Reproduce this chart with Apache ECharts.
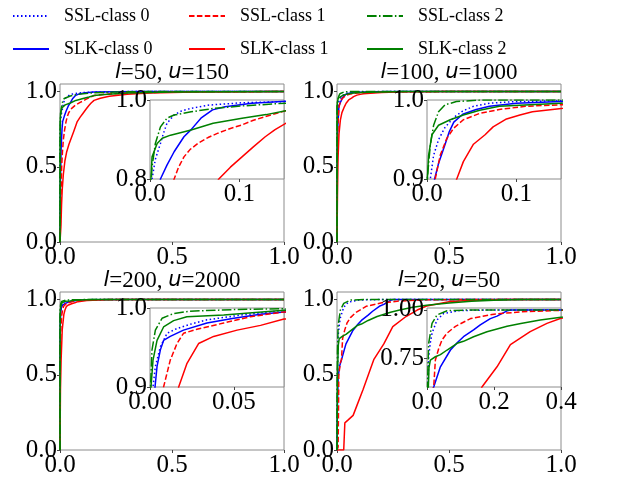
<!DOCTYPE html>
<html>
<head>
<meta charset="utf-8">
<script src="https://cdn.jsdelivr.net/npm/echarts@6/dist/echarts.min.js"></script>
<style>
  html, body { margin: 0; padding: 0; background: #fff; }
  #chart { width: 641px; height: 479px; }
</style>
</head>
<body>
<div id="chart"></div>
<script>
// ROC curves, [fpr, tpr]
// l=50, u=150
const p1_ssl0 = [[0,0],[0.0003,0.5],[0.001,0.72],[0.0023,0.8],[0.006,0.85],[0.0117,0.89],[0.015,0.915],[0.019,0.941],[0.027,0.962],[0.035,0.972],[0.046,0.979],[0.065,0.987],[0.103,0.993],[0.152,0.996],[0.25,0.999],[0.4,1],[1,1]];
const p1_ssl1 = [[0,0],[0.004,0.28],[0.0074,0.5],[0.011,0.6],[0.015,0.68],[0.02,0.74],[0.027,0.8],[0.032,0.83],[0.038,0.856],[0.045,0.875],[0.0536,0.89],[0.065,0.905],[0.076,0.916],[0.09,0.928],[0.103,0.937],[0.115,0.948],[0.129,0.958],[0.152,0.973],[0.2,0.982],[0.3,0.99],[0.5,0.997],[1,1]];
const p1_ssl2 = [[0,0],[0.0003,0.6],[0.001,0.78],[0.0023,0.831],[0.006,0.89],[0.0117,0.932],[0.019,0.954],[0.027,0.962],[0.046,0.97],[0.072,0.979],[0.103,0.985],[0.152,0.992],[0.25,0.997],[0.4,1],[1,1]];
const p1_slk0 = [[0,0],[0.002,0.4],[0.005,0.62],[0.009,0.75],[0.0117,0.8],[0.019,0.835],[0.027,0.869],[0.038,0.907],[0.046,0.925],[0.057,0.954],[0.07,0.975],[0.084,0.983],[0.114,0.992],[0.152,0.997],[0.25,0.999],[0.35,1],[1,1]];
const p1_slk1 = [[0,0],[0.004,0.1],[0.007,0.25],[0.01,0.35],[0.015,0.45],[0.022,0.54],[0.03,0.6],[0.04,0.65],[0.06,0.73],[0.077,0.8],[0.09,0.83],[0.103,0.856],[0.116,0.882],[0.129,0.907],[0.14,0.925],[0.152,0.941],[0.18,0.955],[0.22,0.968],[0.3,0.982],[0.4,0.99],[0.6,0.997],[1,1]];
const p1_slk2 = [[0,0],[0.0003,0.6],[0.001,0.8],[0.0023,0.856],[0.008,0.89],[0.0137,0.903],[0.023,0.911],[0.046,0.924],[0.0707,0.941],[0.103,0.954],[0.13,0.963],[0.152,0.973],[0.2,0.98],[0.3,0.99],[0.5,0.997],[1,1]];

// l=100, u=1000
const p2_ssl0 = [[0,0],[0.0005,0.6],[0.0015,0.8],[0.0037,0.9],[0.0074,0.93],[0.013,0.95],[0.02,0.965],[0.03,0.978],[0.04,0.986],[0.052,0.992],[0.07,0.996],[0.1,0.998],[0.15,0.999],[0.3,1],[1,1]];
const p2_ssl1 = [[0,0],[0.001,0.5],[0.004,0.78],[0.0092,0.9],[0.0148,0.93],[0.022,0.951],[0.0296,0.964],[0.0407,0.975],[0.059,0.983],[0.081,0.988],[0.11,0.992],[0.15,0.994],[0.3,0.998],[0.5,1],[1,1]];
const p2_ssl2 = [[0,0],[0.0001,0.7],[0.0003,0.9],[0.0037,0.943],[0.0074,0.968],[0.0129,0.985],[0.0203,0.994],[0.033,0.998],[0.06,1],[1,1]];
const p2_slk0 = [[0,0],[0.001,0.5],[0.003,0.75],[0.0085,0.9],[0.013,0.92],[0.02,0.943],[0.025,0.96],[0.03,0.972],[0.04,0.982],[0.055,0.988],[0.07,0.992],[0.1,0.996],[0.15,0.998],[0.3,1],[1,1]];
const p2_slk1 = [[0,0],[0.002,0.3],[0.0045,0.55],[0.009,0.72],[0.015,0.81],[0.022,0.86],[0.0333,0.9],[0.0407,0.922],[0.052,0.944],[0.065,0.956],[0.074,0.966],[0.089,0.976],[0.104,0.981],[0.118,0.985],[0.148,0.989],[0.2,0.994],[0.3,0.998],[0.5,1],[1,1]];
const p2_slk2 = [[0,0],[0.0002,0.7],[0.0004,0.9],[0.0018,0.93],[0.0055,0.956],[0.0129,0.968],[0.026,0.975],[0.0407,0.981],[0.059,0.987],[0.081,0.992],[0.15,0.996],[0.3,1],[1,1]];

// l=200, u=2000
const p3_ssl0 = [[0,0],[0.0003,0.6],[0.001,0.85],[0.0018,0.9],[0.0032,0.926],[0.0062,0.951],[0.0102,0.968],[0.0161,0.974],[0.025,0.98],[0.034,0.985],[0.054,0.991],[0.08,0.997],[0.15,1],[1,1]];
const p3_ssl1 = [[0,0],[0.001,0.6],[0.004,0.82],[0.0081,0.9],[0.0121,0.934],[0.0161,0.955],[0.02,0.968],[0.028,0.973],[0.044,0.981],[0.06,0.989],[0.08,0.995],[0.15,0.999],[0.3,1],[1,1]];
const p3_ssl2 = [[0,0],[0.0001,0.7],[0.0003,0.9],[0.0012,0.947],[0.0032,0.972],[0.0072,0.987],[0.014,0.993],[0.024,0.996],[0.05,0.998],[0.08,0.999],[0.15,1],[1,1]];
const p3_slk0 = [[0,0],[0.0005,0.6],[0.0015,0.85],[0.003,0.9],[0.0042,0.926],[0.0062,0.947],[0.0081,0.959],[0.0121,0.964],[0.02,0.972],[0.034,0.981],[0.05,0.987],[0.066,0.992],[0.08,0.995],[0.15,0.999],[0.3,1],[1,1]];
const p3_slk1 = [[0,0],[0.002,0.4],[0.005,0.6],[0.01,0.8],[0.0171,0.9],[0.0221,0.93],[0.029,0.955],[0.038,0.964],[0.052,0.972],[0.066,0.978],[0.08,0.986],[0.12,0.993],[0.2,0.998],[0.3,1],[1,1]];
const p3_slk2 = [[0,0],[0.0002,0.7],[0.0006,0.9],[0.0018,0.934],[0.0042,0.959],[0.0081,0.976],[0.0141,0.984],[0.022,0.989],[0.044,0.991],[0.08,0.997],[0.15,1],[1,1]];

// l=20, u=50
const p4_ssl0 = [[0,0],[0.001,0.3],[0.003,0.55],[0.005,0.757],[0.01,0.83],[0.015,0.879],[0.03,0.948],[0.05,0.982],[0.1,0.997],[0.2,1],[1,1]];
const p4_ssl1 = [[0,0],[0.005,0.02],[0.007,0.3],[0.008,0.5],[0.015,0.58],[0.02,0.6],[0.025,0.74],[0.035,0.8],[0.045,0.845],[0.06,0.88],[0.085,0.915],[0.13,0.955],[0.2,0.978],[0.28,0.99],[0.4,0.998],[0.6,1],[1,1]];
const p4_ssl2 = [[0,0],[0.0005,0.4],[0.002,0.65],[0.005,0.827],[0.015,0.93],[0.03,0.974],[0.06,0.996],[0.13,1],[1,1]];
const p4_slk0 = [[0,0],[0.002,0.3],[0.005,0.48],[0.012,0.56],[0.02,0.6],[0.04,0.705],[0.07,0.792],[0.09,0.83],[0.109,0.861],[0.139,0.896],[0.159,0.922],[0.189,0.955],[0.209,0.968],[0.239,0.995],[0.25,1],[1,1]];
const p4_slk1 = [[0,0],[0.03,0],[0.035,0.18],[0.05,0.2],[0.072,0.23],[0.09,0.3],[0.116,0.4],[0.14,0.5],[0.164,0.6],[0.209,0.705],[0.249,0.82],[0.308,0.887],[0.358,0.93],[0.4,0.957],[0.5,0.985],[0.6,0.995],[0.75,1],[1,1]];
const p4_slk2 = [[0,0],[0.002,0.5],[0.006,0.7],[0.01,0.74],[0.025,0.757],[0.04,0.768],[0.06,0.792],[0.09,0.827],[0.109,0.837],[0.139,0.861],[0.179,0.887],[0.239,0.915],[0.28,0.93],[0.338,0.948],[0.4,0.962],[0.5,0.977],[0.6,0.988],[0.7,0.995],[0.82,1],[1,1]];

const seriesNames = ['SSL-class 0', 'SSL-class 1', 'SSL-class 2', 'SLK-class 0', 'SLK-class 1', 'SLK-class 2'];
const panels = [
  [p1_ssl0, p1_ssl1, p1_ssl2, p1_slk0, p1_slk1, p1_slk2],
  [p2_ssl0, p2_ssl1, p2_ssl2, p2_slk0, p2_slk1, p2_slk2],
  [p3_ssl0, p3_ssl1, p3_ssl2, p3_slk0, p3_slk1, p3_slk2],
  [p4_ssl0, p4_ssl1, p4_ssl2, p4_slk0, p4_slk1, p4_slk2],
];
const titles = [['50', '150'], ['100', '1000'], ['200', '2000'], ['20', '50']];

const mainTicks = [0, 0.5, 1.0];
const insetXRange = [[0, 0.15], [0, 0.15], [0, 0.08], [0, 0.4]];
const insetYRange = [[0.8, 1.0], [0.9, 1.0], [0.9, 1.0], [0.6, 1.01]];
const insetXTicks = [[0, 0.1], [0, 0.1], [0, 0.05], [0, 0.2, 0.4]];
const insetYTicks = [[0.8, 1.0], [0.9, 1.0], [0.9, 1.0], [0.75, 1.0]];
const insetXDigits = [1, 1, 2, 1];
const insetYDigits = [1, 1, 1, 2];

const FONT = 'Liberation Serif';
const colors = ['#0000ff', '#ff0000', '#008000', '#0000ff', '#ff0000', '#008000'];
const dashes = [[1.5, 2.5], [5.5, 2.4], [9.6, 2.4, 1.5, 2.4], 'solid', 'solid', 'solid'];
// matplotlib draws column-wise legend order: SSL0, SLK0, SSL1, ...
const drawOrder = [0, 3, 1, 4, 2, 5];

// px boxes [left, top, width, height]
const mainBoxes = [[60, 84, 224, 158], [337, 84, 224, 158], [60, 292, 224, 158], [337, 292, 224, 158]];
const insetBoxes = [[150, 100, 134, 79], [427, 100, 134, 79], [150, 308, 134, 79], [427, 308, 134, 79]];
const titleTops = [61, 61, 269, 269];
const legendLeft = [12, 188, 366];
const legendTop = [7, 40];

function makeAxis(gridIndex, min, max, ticks, digits, z) {
  return {
    type: 'value',
    gridIndex: gridIndex,
    min: min,
    max: max,
    z: z,
    splitLine: { show: false },
    axisLine: { show: false },
    axisTick: { show: true, length: 3, customValues: ticks, lineStyle: { color: '#444' } },
    axisLabel: {
      customValues: ticks,
      formatter: v => v.toFixed(digits),
      margin: 3,
      color: '#000',
      fontFamily: FONT,
      fontSize: 25,
    },
  };
}

const grid = [];
const xAxis = [];
const yAxis = [];
const series = [];

mainBoxes.forEach((b, i) => {
  grid.push({ left: b[0], top: b[1], width: b[2], height: b[3], show: true, borderColor: '#8c8c8c', borderWidth: 1, z: 0 });
  xAxis.push(makeAxis(i, 0, 1, mainTicks, 1, 1));
  yAxis.push(makeAxis(i, 0, 1.05, mainTicks, 1, 1));
});
insetBoxes.forEach((b, i) => {
  grid.push({ left: b[0], top: b[1], width: b[2], height: b[3], show: true, backgroundColor: '#fff', borderColor: '#8c8c8c', borderWidth: 1, z: 5 });
  xAxis.push(makeAxis(4 + i, insetXRange[i][0], insetXRange[i][1], insetXTicks[i], insetXDigits[i], 6));
  yAxis.push(makeAxis(4 + i, insetYRange[i][0], insetYRange[i][1], insetYTicks[i], insetYDigits[i], 6));
});

panels.forEach((curves, i) => {
  drawOrder.forEach(c => {
    [i, 4 + i].forEach((ax, k) => {
      series.push({
        name: seriesNames[c],
        type: 'line',
        xAxisIndex: ax,
        yAxisIndex: ax,
        data: curves[c],
        symbol: 'none',
        showSymbol: false,
        clip: true,
        z: k === 0 ? 2 : 7,
        lineStyle: { color: colors[c], width: 1.5, type: dashes[c] },
        itemStyle: { color: colors[c] },
      });
    });
  });
});

const title = titles.map((t, i) => ({
  text: '{i|l}=' + t[0] + ', {i|u}=' + t[1],
  left: mainBoxes[i][0] + mainBoxes[i][2] / 2,
  top: titleTops[i],
  textAlign: 'center',
  padding: 0,
  textStyle: {
    fontFamily: FONT,
    fontSize: 23,
    fontWeight: 'normal',
    color: '#000',
    rich: { i: { fontFamily: 'DejaVu Sans', fontStyle: 'italic', fontSize: 21, color: '#000' } },
  },
}));

const legend = seriesNames.map((name, i) => ({
  data: [name],
  left: legendLeft[i % 3],
  top: legendTop[Math.floor(i / 3)],
  padding: 0,
  itemWidth: 36,
  itemHeight: 14,
  selectedMode: false,
  itemStyle: { color: 'rgba(0,0,0,0)', borderWidth: 0 },
  textStyle: { fontFamily: FONT, fontSize: 18, color: '#000', padding: [0, 0, 0, 10] },
}));

const chart = echarts.init(document.getElementById('chart'), null, { renderer: 'canvas' });
chart.setOption({
  animation: false,
  backgroundColor: '#fff',
  title: title,
  legend: legend,
  grid: grid,
  xAxis: xAxis,
  yAxis: yAxis,
  series: series,
});
</script>
</body>
</html>
